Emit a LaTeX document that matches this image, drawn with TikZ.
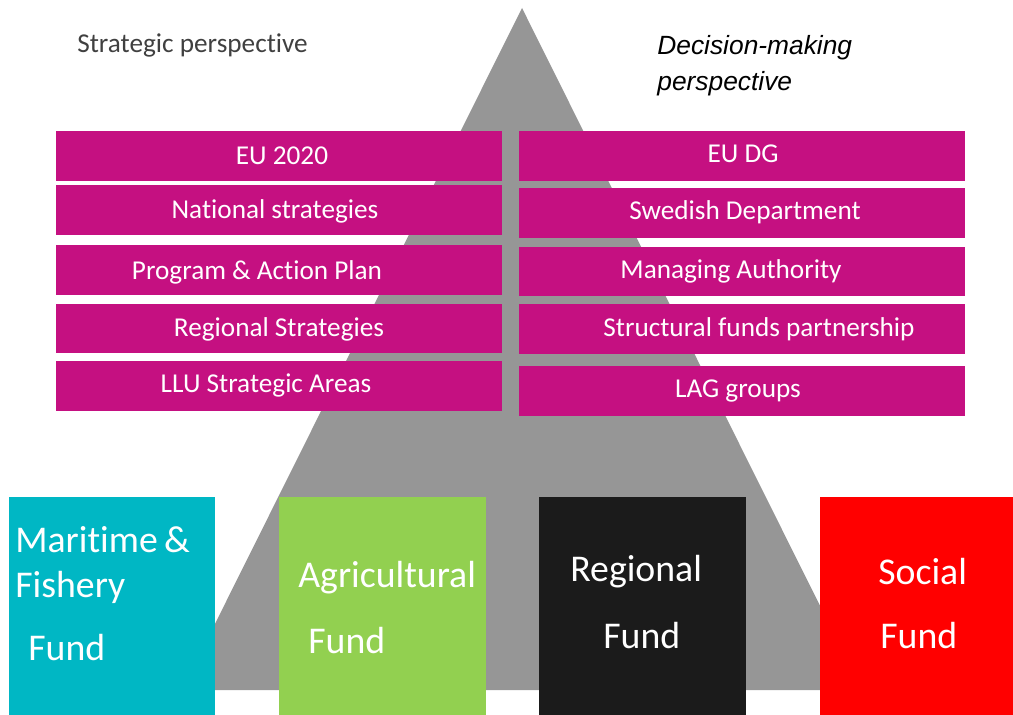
\documentclass[tikz,border=0pt]{standalone}
\usepackage{fontspec}
\setmainfont[Ligatures=NoCommon]{Carlito}
\newfontfamily\arialfont{Liberation Sans}

\definecolor{pyrgray}{RGB}{150,150,150}
\definecolor{rowpink}{RGB}{197,16,129}
\definecolor{headgray}{RGB}{64,64,64}
\definecolor{maricyan}{RGB}{0,183,196}
\definecolor{agrigreen}{RGB}{146,208,80}
\definecolor{regblack}{RGB}{27,27,27}

\begin{document}
\begin{tikzpicture}[x=0.02cm, y=-0.02cm,
    rowtext/.style={text=white, anchor=base, inner sep=0pt, font=\fontsize{15.5}{18}\selectfont},
    fundtext/.style={text=white, anchor=base west, inner sep=0pt, font=\fontsize{21.5}{25}\selectfont},
    headtext/.style={anchor=base west, inner sep=0pt}]
    \useasboundingbox (0,0) rectangle (1013,715);

    % pyramid
    \fill [pyrgray] (522,8) -- (862,690) -- (182,690) -- cycle;

    % headings
    \node [headtext, text=headgray, font=\fontsize{15.5}{18}\selectfont] (strat) at (77,53) {Strategic perspective};
    \node [headtext, font=\arialfont\itshape\fontsize{15}{18}\selectfont] (dec1) at (657,55) {Decision-making};
    \node [headtext, font=\arialfont\itshape\fontsize{15}{18}\selectfont] (dec2) at (657,91) {perspective};

    % strategic rows
    \fill [rowpink] (56,131) rectangle (502,181);
    \node [rowtext] (eu) at (282,165) {EU 2020};
    \fill [rowpink] (56,185) rectangle (502,235);
    \node [rowtext] (nat) at (275,219) {National strategies};
    \fill [rowpink] (56,245) rectangle (502,295);
    \node [rowtext] (prog) at (257,280) {Program \& Action Plan};
    \fill [rowpink] (56,304) rectangle (502,353);
    \node [rowtext] (reg) at (279,337) {Regional Strategies};
    \fill [rowpink] (56,361) rectangle (502,411);
    \node [rowtext] (llu) at (266,393) {LLU Strategic Areas};

    % decision rows
    \fill [rowpink] (519,131) rectangle (965,181);
    \node [rowtext] (eudg) at (743,163) {EU DG};
    \fill [rowpink] (519,188) rectangle (965,238);
    \node [rowtext] (swe) at (745,220) {Swedish Department};
    \fill [rowpink] (519,247) rectangle (965,296);
    \node [rowtext] (man) at (731,279) {Managing Authority};
    \fill [rowpink] (519,304) rectangle (965,354);
    \node [rowtext] (struc) at (759,337) {Structural funds partnership};
    \fill [rowpink] (519,366) rectangle (965,416);
    \node [rowtext] (lag) at (738,398) {LAG groups};

    % funds
    \fill [maricyan] (9,497) rectangle (215,715);
    \node [fundtext] (mar1) at (15,552) {Maritime\,\&};
    \node [fundtext] (mar2) at (15,597) {Fishery};
    \node [fundtext] (mar3) at (28,660) {Fund};

    \fill [agrigreen] (279,497) rectangle (486,715);
    \node [fundtext] (agr1) at (298,587) {Agricultural};
    \node [fundtext] (agr2) at (308,653) {Fund};

    \fill [regblack] (539,497) rectangle (746,715);
    \node [fundtext] (rf1) at (570,581) {Regional};
    \node [fundtext] (rf2) at (603,648) {Fund};

    \fill [red] (820,497) rectangle (1013,715);
    \node [fundtext] (soc1) at (878,584) {Social};
    \node [fundtext] (soc2) at (880,648) {Fund};
\end{tikzpicture}
\end{document}
